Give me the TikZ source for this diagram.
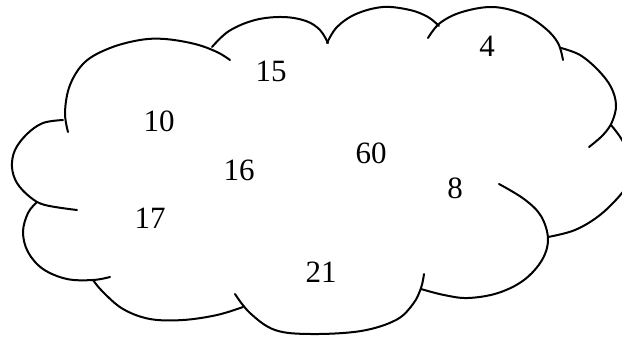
\documentclass[tikz,border=0pt]{standalone}
\usepackage{fontspec}
\setmainfont{Liberation Serif}
\begin{document}
\begin{tikzpicture}[x=0.5pt,y=-0.5pt,
  edge/.style={line width=1pt,line cap=round},
  num/.style={font=\fontsize{15.5}{18}\selectfont,inner sep=0pt}]
\useasboundingbox (0,0) rectangle (622,345);
\clip (0,0) rectangle (622,345);
% cloud bumps
\draw[edge] plot[smooth,tension=0.6] coordinates{(68,132) (65,112) (70,85) (85,62) (110,48) (140,40) (165,39) (195,44) (217,52) (230,60)};
\draw[edge] plot[smooth,tension=0.6] coordinates{(212,47) (229,31) (255,20) (283,17) (306,21) (320,30) (328,43)};
\draw[edge] plot[smooth,tension=0.6] coordinates{(327,43) (337,27) (356,14) (383,7) (410,10) (428,17) (439,26)};
\draw[edge] plot[smooth,tension=0.6] coordinates{(428,38) (440,23) (462,12) (493,7) (523,14) (545,28) (558,43) (563,60)};
\draw[edge] plot[smooth,tension=0.6] coordinates{(561,48) (580,55) (598,70) (611,87) (616,105) (612,122) (603,135) (589,147)};
\draw[edge] plot[smooth,tension=0.6] coordinates{(611,125) (622,140) (630,160) (630,178) (622,193) (600,215) (575,230) (548,237)};
\draw[edge] plot[smooth,tension=0.6] coordinates{(499,184) (524,199) (541,216) (548,239) (542,260) (524,280) (498,293) (468,298) (444,295) (421,289)};
\draw[edge] plot[smooth,tension=0.6] coordinates{(424,274) (421,288) (413,304) (396,320) (361,331) (311,334) (275,330) (250,313) (235,294)};
\draw[edge] plot[smooth,tension=0.6] coordinates{(243,307) (217,315) (183,320) (150,319) (123,309) (103,292) (93,280)};
\draw[edge] plot[smooth,tension=0.6] coordinates{(110,277) (93,280) (67,279) (43,269) (28,252) (23,232) (28,213) (37,202)};
\draw[edge] plot[smooth,tension=0.6] coordinates{(63,120) (43,123) (27,134) (15,150) (12,167) (17,183) (30,197) (45,205) (77,210)};
% numbers
\node[num] (n15) at (271,71) {15};
\node[num] (n4) at (487,46) {4};
\node[num] (n10) at (159,121) {10};
\node[num] (n16) at (239,170) {16};
\node[num] (n60) at (371,153) {60};
\node[num] (n8) at (455,188) {8};
\node[num] (n17) at (150,218) {17};
\node[num] (n21) at (321,272) {21};
\end{tikzpicture}
\end{document}
